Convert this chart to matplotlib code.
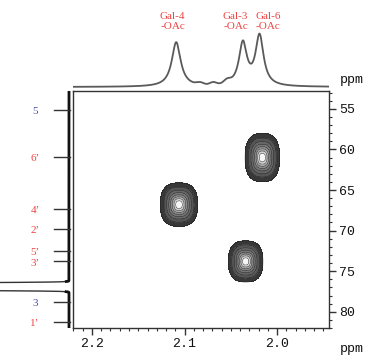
import numpy as np
import matplotlib
matplotlib.use("Agg")
import matplotlib.pyplot as plt
from matplotlib.ticker import MultipleLocator, FixedLocator

# --- data ---
# 1H projection peaks (ppm, height, half width)
h_peaks = [2.109, 2.037, 2.019]
h_heights = [44.5, 42.5, 50.0]
h_hwhm = [0.0058, 0.0052, 0.0052]
# small bumps in the 1H trace
bump_pos = [2.083, 2.069, 2.054]
bump_heights = [2.0, 2.5, 3.5]

# cross peaks (1H ppm, 13C ppm, half-widths)
cross_h = [2.106, 2.016, 2.034]
cross_c = [66.8, 61.0, 73.8]
cross_wh = [0.0135, 0.0125, 0.0125]
cross_wc = [1.8, 2.0, 1.7]

# 13C projection: solvent triplet
c_peaks = [76.6, 76.9, 77.2]
c_heights = [600.0, 600.0, 600.0]

# assignment marks on the 13C axis
assign_ppm = [55.1, 60.9, 67.3, 69.8, 72.5, 73.8, 78.8, 81.2]
assign_txt = ["5", "6\u2019", "4\u2019", "2\u2019", "5\u2019", "3\u2019", "3", "1\u2019"]
assign_col = ["#4a4ab0", "#ee4444", "#ee4444", "#ee4444", "#ee4444", "#ee4444", "#4a4ab0", "#ee4444"]

# labels over the 1H trace
top_labels = ["Gal-4\n-OAc", "Gal-3\n-OAc", "Gal-6\n-OAc"]
top_label_pos = [2.113, 2.045, 2.010]

xlo, xhi = 2.2205, 1.944
ylo, yhi = 52.8, 82.0

W, H = 383, 363
fig = plt.figure(figsize=(W / 100, H / 100), dpi=100)

def px_axes(x0, y0, x1, y1):
    return fig.add_axes([x0 / W, 1 - y1 / H, (x1 - x0) / W, (y1 - y0) / H])

mono = "Liberation Mono"
serif = "Liberation Serif"
red = "#ee4444"

# --- main 2D axes ---
ax = px_axes(73, 91, 329, 328)
ax.set_xlim(xlo, xhi)
ax.set_ylim(yhi, ylo)

hx = np.linspace(xhi, xlo, 600)
cy = np.linspace(ylo, yhi, 600)
X, Y = np.meshgrid(hx, cy)
Z = np.zeros_like(X)
for h0, c0, wh, wc in zip(cross_h, cross_c, cross_wh, cross_wc):
    Z += np.exp(-(np.abs((X - h0) / wh) ** 2.6 + np.abs((Y - c0) / wc) ** 2.6))

levels = [0.06, 0.2, 0.38, 0.55, 0.7, 0.82, 0.91, 0.97, 1.01]
fills = ["#383838", "#555555", "#666666", "#777777", "#8a8a8a", "#aaaaaa", "#d2d2d2", "#f6f6f6"]
ax.contourf(X, Y, Z, levels=levels, colors=fills)
ax.contour(X, Y, Z, levels=levels[:-1], colors="#1e1e1e", linewidths=0.35)

for s in ax.spines.values():
    s.set_color("#333333")
    s.set_linewidth(1.0)
ax.yaxis.tick_right()
ax.xaxis.set_major_locator(FixedLocator([2.2, 2.1, 2.0]))
ax.xaxis.set_minor_locator(MultipleLocator(0.01))
ax.yaxis.set_major_locator(MultipleLocator(5))
ax.yaxis.set_minor_locator(MultipleLocator(1))
ax.set_xticklabels(["2.2", "2.1", "2.0"])
ax.tick_params(which="major", direction="out", length=5, width=1, color="#333333",
               labelsize=9.5, labelcolor="#111111", pad=2)
ax.tick_params(which="minor", direction="out", length=2.5, width=0.8, color="#333333")
for lab in ax.get_xticklabels() + ax.get_yticklabels():
    lab.set_fontfamily(mono)

# --- top 1H projection ---
axt = px_axes(73, 30, 329, 90)
axt.set_xlim(xlo, xhi)
axt.set_ylim(-3, 57)
hs = np.linspace(xhi, xlo, 1500)
trace = np.zeros_like(hs)
for p, a, g in zip(h_peaks, h_heights, h_hwhm):
    trace += a / (1 + ((hs - p) / g) ** 2)
for p, a in zip(bump_pos, bump_heights):
    trace += a * np.exp(-((hs - p) / 0.005) ** 2)
axt.plot(hs, trace, color="#5a5a5a", lw=1.3)
axt.axis("off")

# --- left 13C projection ---
axl = px_axes(0, 91, 72, 328)
axl.set_xlim(72, 0)
axl.set_ylim(yhi, ylo)
cs = np.linspace(ylo, yhi, 6000)
ctrace = np.full_like(cs, 3.0)
for p, a in zip(c_peaks, c_heights):
    ctrace += a * np.exp(-0.5 * ((cs - p) / 0.1) ** 2)
axl.plot(ctrace, cs, color="#333333", lw=1.0)
base = np.where(ctrace < 6, ctrace, np.nan)
axl.plot(base, cs, color="#111111", lw=2.0)
for ppm, txt, col in zip(assign_ppm, assign_txt, assign_col):
    axl.plot([18, 2], [ppm, ppm], color="#333333", lw=1.0)
    axl.text(37, ppm + 0.2, txt, color=col, fontsize=8, family=serif,
             ha="center", va="center")
axl.axis("off")

# --- labels ---
for txt, p in zip(top_labels, top_label_pos):
    xp = 73 + (xlo - p) / (xlo - xhi) * 256
    fig.text(xp / W, 1 - 21.5 / H, txt, color=red, fontsize=8, family=serif,
             ha="center", va="center", linespacing=1.15)
fig.text(352 / W, 1 - 80 / H, "ppm", family=mono, fontsize=9.5, color="#111111",
         ha="center", va="center")
fig.text(352 / W, 1 - 349 / H, "ppm", family=mono, fontsize=9.5, color="#111111",
         ha="center", va="center")

fig.savefig("out.png", dpi=100)
